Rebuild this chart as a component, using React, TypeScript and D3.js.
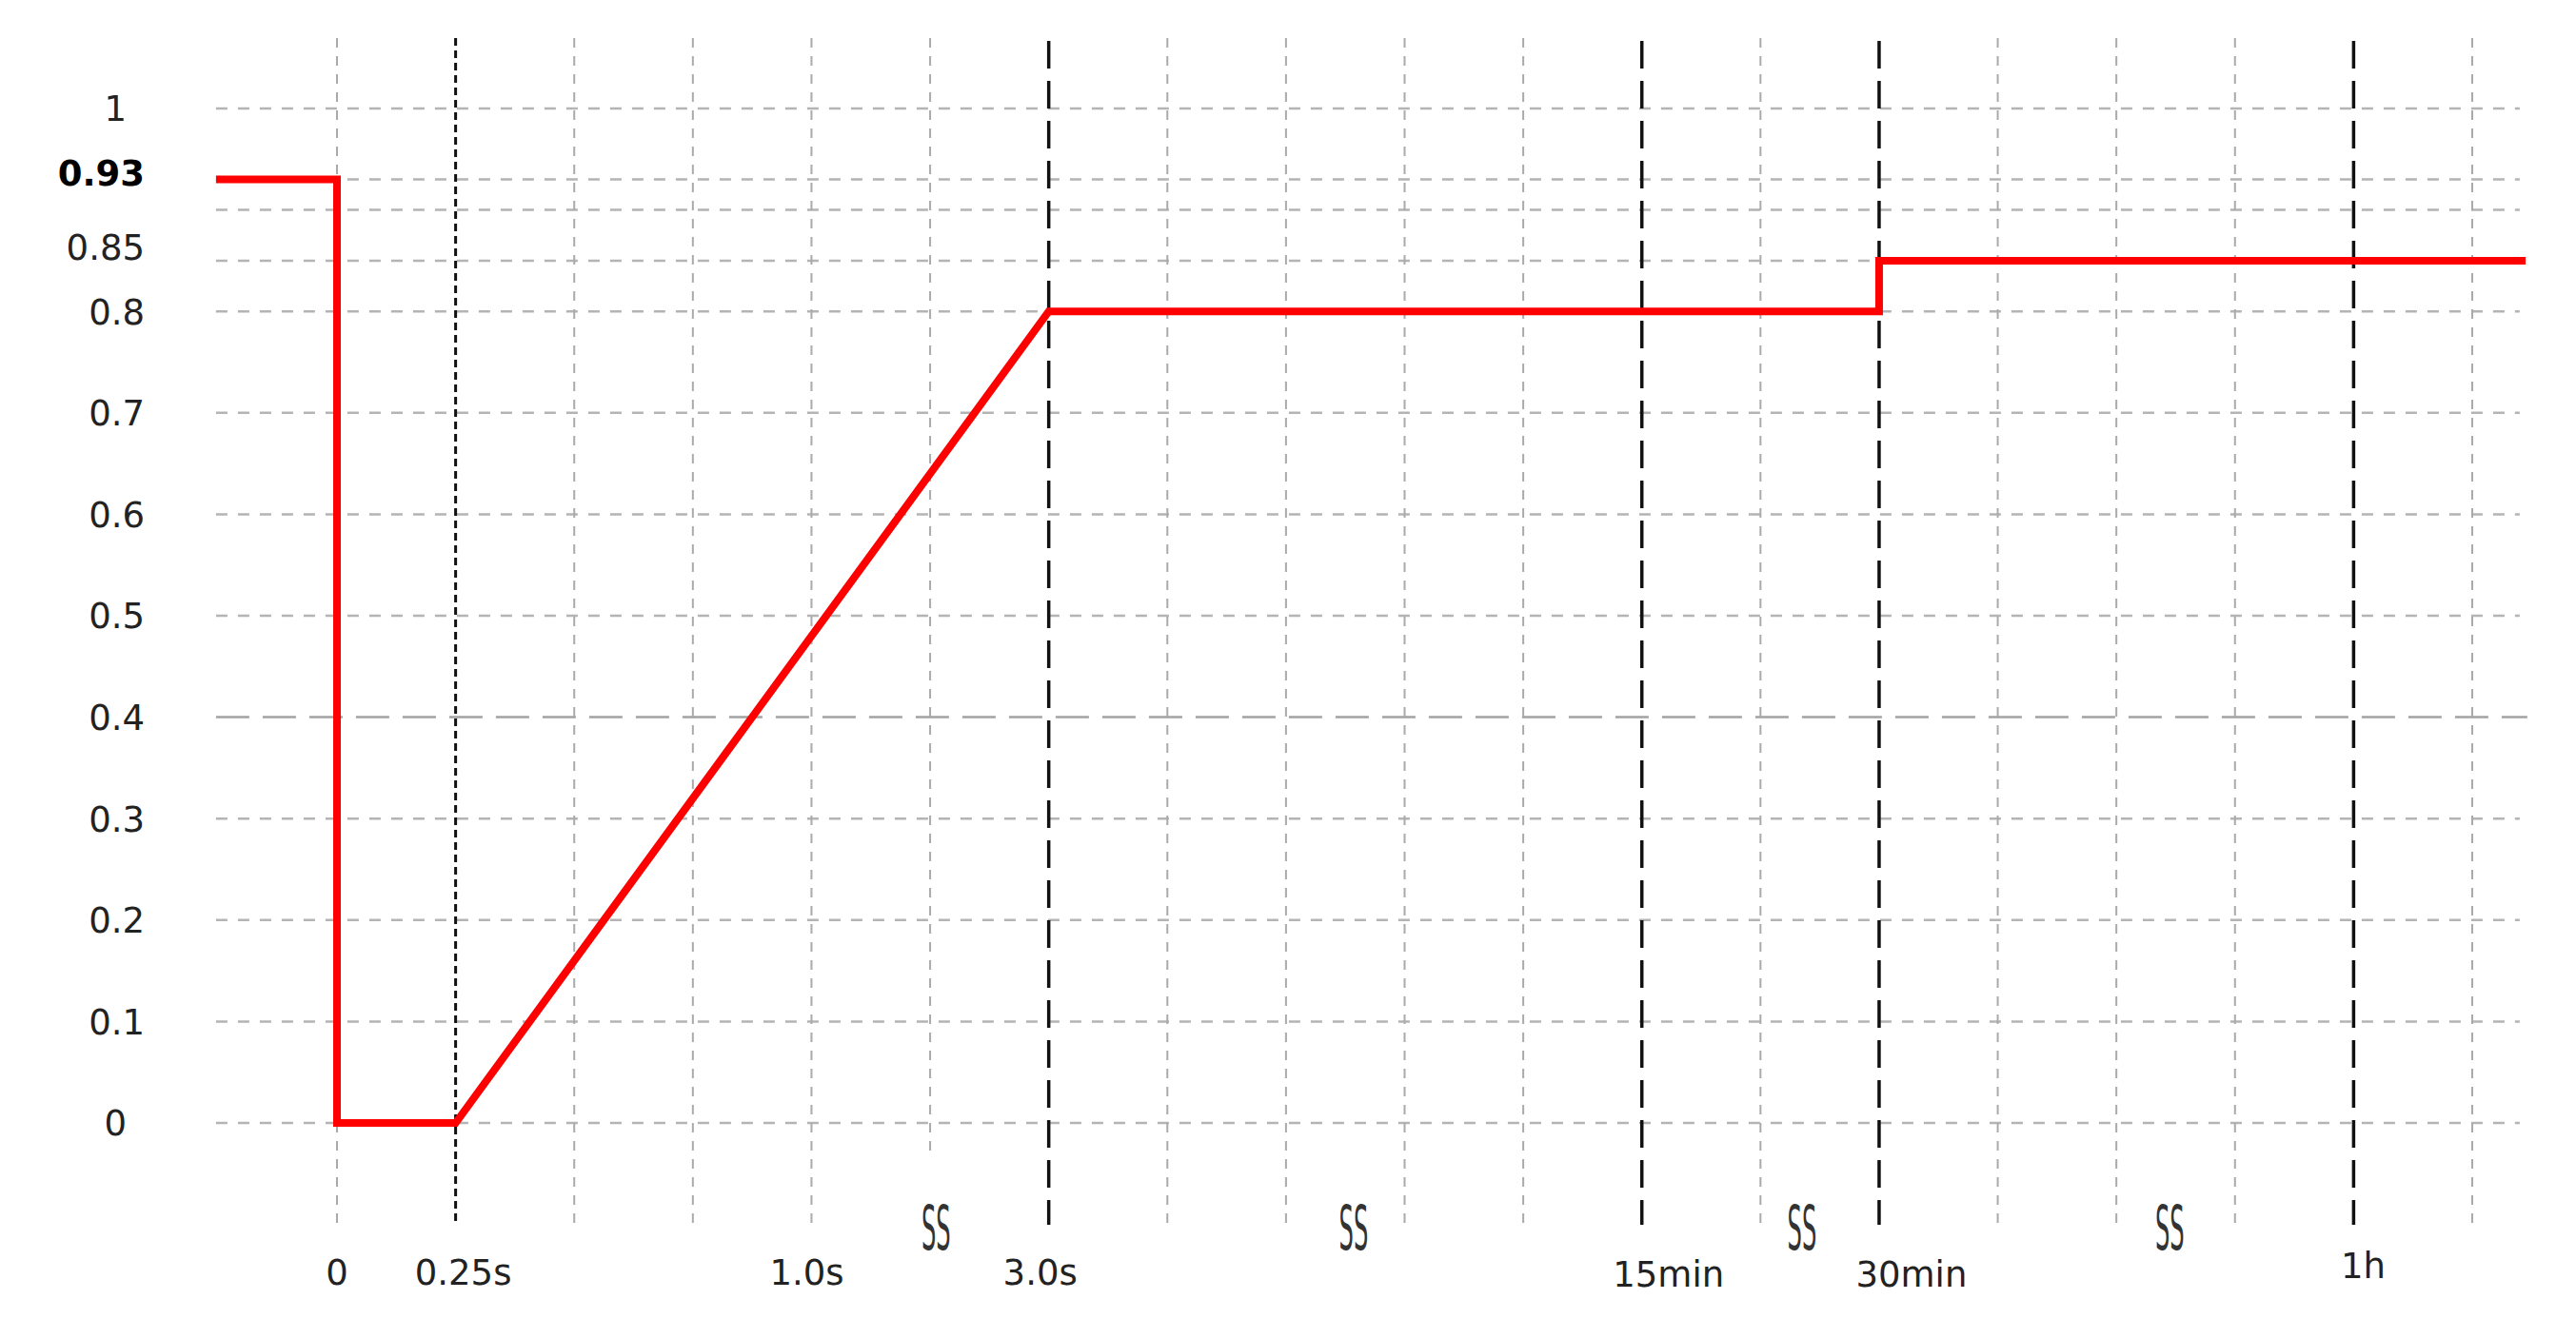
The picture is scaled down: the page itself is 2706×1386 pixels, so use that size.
import React from "react";
import * as d3 from "d3";

// horizontal grid values and the labelled ones
const yGrid = [0, 0.1, 0.2, 0.3, 0.4, 0.5, 0.6, 0.7, 0.8, 0.85, 0.9, 0.93, 1];
const yLabels = ["1", "0.93", "0.85", "0.8", "0.7", "0.6", "0.5", "0.4", "0.3", "0.2", "0.1", "0"];

// x axis is a broken time axis: one slot per grid column
const xSlots = d3.range(0, 19);
const timeLabels = ["0", "0.25s", "1.0s", "3.0s", "15min", "30min", "1h"];
const timeSlots = [0, 1, 4, 6, 11, 13, 17];
const breakSlots = [5.05, 8.57, 12.35, 15.45];

// the red curve (slot, value)
const curveX = [-1.02, 0, 0, 1, 6, 13, 13, 18.45];
const curveY = [0.93, 0.93, 0, 0, 0.8, 0.8, 0.85, 0.85];

const W = 2706;
const H = 1386;

export default function App() {
  const x = d3.scaleLinear().domain([0, 18]).range([354, 2597]);
  const y = d3.scaleLinear().domain([0, 1]).range([1180, 114]);

  const pts = curveX.map((d, i) => [d, curveY[i]] as [number, number]);
  const line = d3
    .line<[number, number]>()
    .x((d) => x(d[0]))
    .y((d) => y(d[1]));

  const left = x(-1.02);
  const right = x(18.4);
  const font = "'DejaVu Sans', Verdana, sans-serif";

  // small nudges so the labels sit like in the original
  const xLabelShift: Record<string, number> = { "0": 0, "0.25s": 8, "1.0s": -5, "3.0s": -9, "15min": 28, "30min": 34, "1h": 10 };
  const xLabelY: Record<string, number> = { "1h": 1343, "15min": 1352, "30min": 1352 };
  const yLabelShift: Record<string, number> = { "0.85": -14, "0.93": -7 };

  return (
    <svg width={W} height={H} style={{ position: "absolute", left: 0, top: 0, background: "#fff" }}>
      {/* horizontal grid */}
      {yGrid.map((v) => (
        <line
          key={"h" + v}
          x1={left}
          x2={v === 0.4 ? right + 8 : right}
          y1={y(v)}
          y2={y(v)}
          stroke={v === 0.4 ? "#a3a3a3" : "#b4b4b4"}
          strokeWidth={2.5}
          strokeDasharray={v === 0.4 ? "35,14" : "12,11"}
        />
      ))}
      {/* vertical grid */}
      {xSlots.map((s) => {
        const major = [6, 11, 13, 17].includes(s);
        const minorBlack = s === 1;
        return (
          <line
            key={"v" + s}
            x1={x(s)}
            x2={x(s)}
            y1={major ? 43 : 40}
            y2={s === 5 ? 1217 : 1287}
            stroke={major || minorBlack ? "#111" : "#aaa"}
            strokeWidth={major ? 3.5 : minorBlack ? 3 : 2}
            strokeDasharray={major ? "29,13" : minorBlack ? "8,5" : "10,9"}
          />
        );
      })}
      {/* red curve */}
      <path d={line(pts) || ""} fill="none" stroke="#ff0000" strokeWidth={8} strokeLinejoin="miter" />

      {/* y labels */}
      {yLabels.map((t) => (
        <text
          key={"yl" + t}
          x={t.length === 1 ? 133 : 152}
          y={y(+t) + (yLabelShift[t] || 0)}
          dy="0.36em"
          textAnchor="end"
          fontFamily={font}
          fontSize={37}
          fontWeight={t === "0.93" ? "bold" : "normal"}
          fill={t === "0.93" ? "#000" : "#222"}
        >
          {t}
        </text>
      ))}

      {/* x labels */}
      {timeLabels.map((t, i) => (
        <text
          key={"xl" + t}
          x={x(timeSlots[i]) + xLabelShift[t]}
          y={xLabelY[t] || 1350}
          textAnchor="middle"
          fontFamily={font}
          fontSize={37}
          fill="#222"
        >
          {t}
        </text>
      ))}

      {/* axis break marks */}
      {breakSlots.map((s) => (
        <text
          key={"b" + s}
          transform={`translate(${x(s)},1313) scale(0.55,1.45)`}
          textAnchor="middle"
          fontFamily={font}
          fontSize={44}
          fill="#333"
        >
          SS
        </text>
      ))}
    </svg>
  );
}
